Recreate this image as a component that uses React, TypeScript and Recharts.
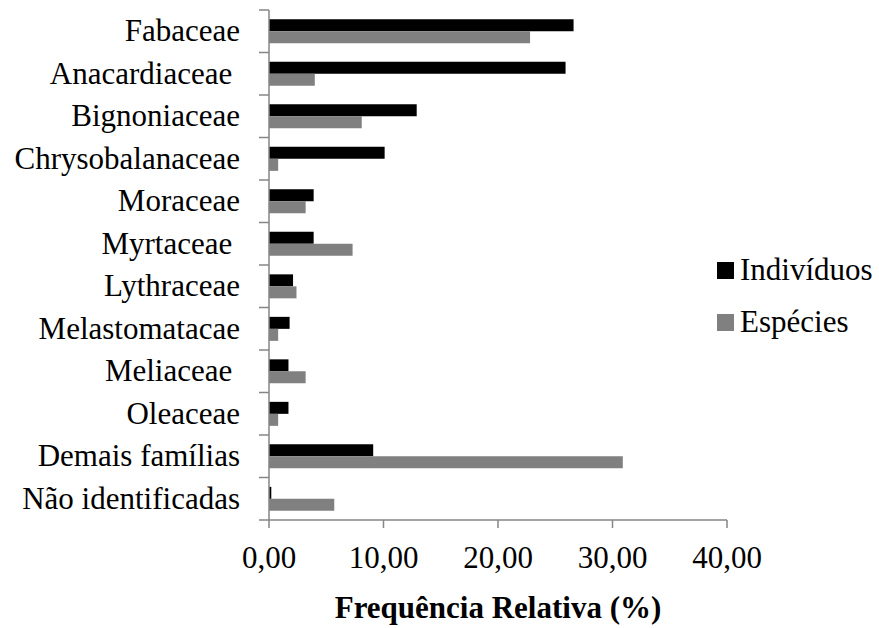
import React from 'react';
import { BarChart, Bar, XAxis, YAxis } from 'recharts';

const categories = [
  'Fabaceae',
  'Anacardiaceae ',
  'Bignoniaceae',
  'Chrysobalanaceae',
  'Moraceae',
  'Myrtaceae ',
  'Lythraceae',
  'Melastomatacae',
  'Meliaceae ',
  'Oleaceae',
  'Demais famílias',
  'Não identificadas',
];
const individuos = [26.6, 25.9, 12.9, 10.1, 3.9, 3.9, 2.1, 1.8, 1.7, 1.7, 9.1, 0.2];
const especies = [22.8, 4.0, 8.1, 0.8, 3.2, 7.3, 2.4, 0.8, 3.2, 0.8, 30.9, 5.7];
const xTicks = [0, 10, 20, 30, 40];
const seriesNames = ['Indivíduos', 'Espécies'];
const seriesColors = ['#000000', '#808080'];

const data = categories.map((name, i) => ({
  name,
  [seriesNames[0]]: individuos[i],
  [seriesNames[1]]: especies[i],
}));

const W = 879;
const H = 628;
const MARGIN = { top: 10, right: 152, bottom: 0, left: 0 };
const Y_AXIS_W = 269;
const X_AXIS_H = 108;
const PLOT_H = H - MARGIN.top - X_AXIS_H;
const BAND = PLOT_H / categories.length;
const FONT = "'Liberation Serif', 'Times New Roman', Tinos, 'DejaVu Serif', serif";
const AXIS_COLOR = '#868686';

const YTick = (props: any) => {
  const { x, y, payload, index } = props;
  const label = String(payload.value).replace(/ $/, '\u00A0');
  const ax = Y_AXIS_W;
  const last = index === categories.length - 1;
  return (
    <g>
      <line x1={ax - 10} x2={ax} y1={y - BAND / 2} y2={y - BAND / 2} stroke={AXIS_COLOR} strokeWidth={1.5} />
      {last && (
        <line x1={ax - 10} x2={ax} y1={y + BAND / 2} y2={y + BAND / 2} stroke={AXIS_COLOR} strokeWidth={1.5} />
      )}
      <text x={x} y={y} dy="0.33em" textAnchor="end" style={{ fontFamily: FONT, fontSize: 31, whiteSpace: 'pre' }} fill="#000">
        {label}
      </text>
    </g>
  );
};

export default function App() {
  return (
    <div style={{ position: 'absolute', left: 0, top: 0, width: W, height: H, background: '#fff', fontFamily: FONT }}>
      <BarChart
        width={W}
        height={H}
        data={data}
        layout="vertical"
        margin={MARGIN}
        barCategoryGap="22%"
        barGap={0}
        style={{ fontFamily: FONT }}
      >
        <XAxis
          type="number"
          domain={[0, 40]}
          ticks={xTicks}
          interval={0}
          height={X_AXIS_H}
          stroke={AXIS_COLOR}
          strokeWidth={1.5}
          tickSize={8}
          tickMargin={18}
          tickFormatter={(v: number) => v.toFixed(2).replace('.', ',')}
          tick={{ fontSize: 31, fill: '#000', style: { fontFamily: FONT } }}
          label={{
            value: 'Frequência Relativa (%)',
            position: 'insideBottom',
            offset: 10,
            style: { fontFamily: FONT, fontSize: 31, fontWeight: 'bold', fill: '#000' },
          }}
        />
        <YAxis
          type="category"
          dataKey="name"
          width={Y_AXIS_W}
          interval={0}
          stroke={AXIS_COLOR}
          strokeWidth={1.5}
          tickLine={false}
          tickSize={10}
          tickMargin={19}
          tick={<YTick />}
        />
        <Bar dataKey={seriesNames[0]} fill={seriesColors[0]} isAnimationActive={false} />
        <Bar dataKey={seriesNames[1]} fill={seriesColors[1]} isAnimationActive={false} />
      </BarChart>
      <div style={{ position: 'absolute', left: 717, top: 244, fontSize: 31, color: '#000' }}>
        {seriesNames.map((n, i) => (
          <div key={n} style={{ display: 'flex', alignItems: 'center', height: 52 }}>
            <span style={{ display: 'inline-block', width: 17, height: 17, background: seriesColors[i], marginRight: 6 }} />
            <span style={{ lineHeight: '52px' }}>{n}</span>
          </div>
        ))}
      </div>
    </div>
  );
}
